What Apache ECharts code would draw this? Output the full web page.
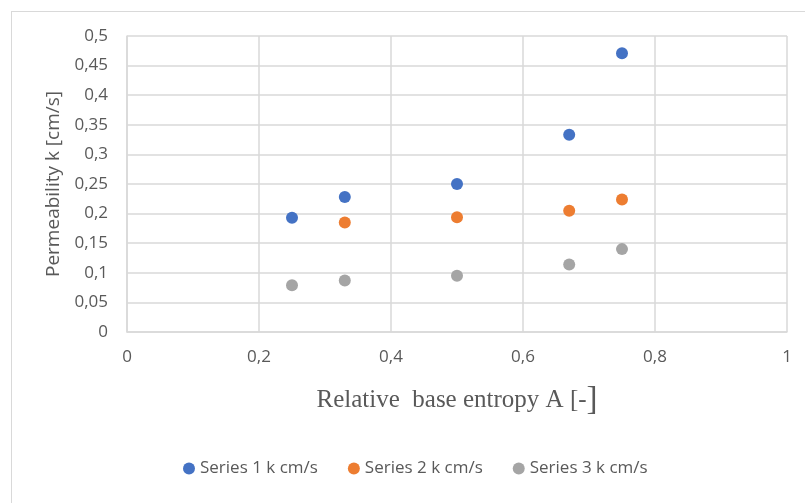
<!DOCTYPE html>
<html>
<head>
<meta charset="utf-8">
<script src="https://cdn.jsdelivr.net/npm/echarts@6/dist/echarts.min.js"></script>
<style>
  html, body { margin: 0; padding: 0; background: #fff; }
  #frame { position: absolute; left: 11px; top: 11px; width: 820px; height: 520px; border: 1px solid #d9d9d9; box-sizing: border-box; }
  #chart { width: 805px; height: 503px; position: absolute; left: 0; top: 0; }
</style>
</head>
<body>
<div id="frame"></div>
<div id="chart"></div>
<script>
// Relative base entropy A [-]
const entropyA = [0.25, 0.33, 0.5, 0.67, 0.75];
// Permeability k [cm/s] per series
const series1 = [0.193, 0.228, 0.25, 0.333, 0.471];
const series2 = [null, 0.185, 0.194, 0.205, 0.224];
const series3 = [0.079, 0.087, 0.095, 0.114, 0.14];
const seriesNames = ['Series 1 k cm/s', 'Series 2 k cm/s', 'Series 3 k cm/s'];
const seriesColors = ['#4472C4', '#ED7D31', '#A5A5A5'];

const pairs = (ys) => entropyA.map((x, i) => [x, ys[i]]).filter(p => p[1] !== null);
const comma = (v) => String(+v.toFixed(2)).replace('.', ',');

const chart = echarts.init(document.getElementById('chart'), null, { renderer: 'canvas' });
const labelFont = { color: '#595959', fontFamily: 'Open Sans', fontSize: 17 };
const gridLine = { color: '#d9d9d9', width: 1.5 };

chart.setOption({
  backgroundColor: 'transparent',
  animation: false,
  grid: { left: 127, right: 18, top: 36, bottom: 171, containLabel: false },
  legend: {
    bottom: 21,
    left: 178,
    itemWidth: 12,
    itemHeight: 12,
    itemGap: 30,
    icon: 'circle',
    textStyle: { color: '#595959', fontFamily: 'Open Sans', fontSize: 17 },
    data: seriesNames
  },
  xAxis: {
    type: 'value',
    min: 0, max: 1, interval: 0.2,
    name: 'Relative  base entropy A [-{br|]}',
    nameLocation: 'middle',
    nameGap: 52,
    nameTextStyle: {
      color: '#595959', fontFamily: 'Liberation Serif', fontSize: 25,
      rich: { br: { color: '#595959', fontFamily: 'Liberation Serif', fontSize: 33 } }
    },
    axisLine: { show: true, lineStyle: gridLine },
    axisTick: { show: false },
    axisLabel: Object.assign({ margin: 17, formatter: comma }, labelFont),
    splitLine: { show: true, lineStyle: gridLine }
  },
  yAxis: {
    type: 'value',
    min: 0, max: 0.5, interval: 0.05,
    name: 'Permeability k [cm/s]',
    nameLocation: 'middle',
    nameGap: 63,
    nameTextStyle: { color: '#595959', fontFamily: 'Open Sans', fontSize: 19 },
    axisLine: { show: true, lineStyle: gridLine },
    axisTick: { show: false },
    axisLabel: Object.assign({ margin: 19, formatter: comma }, labelFont),
    splitLine: { show: true, lineStyle: gridLine }
  },
  series: [series1, series2, series3].map((ys, i) => ({
    name: seriesNames[i],
    type: 'scatter',
    symbol: 'circle',
    symbolSize: 12,
    itemStyle: { color: seriesColors[i], opacity: 1 },
    data: pairs(ys)
  }))
});
</script>
</body>
</html>
